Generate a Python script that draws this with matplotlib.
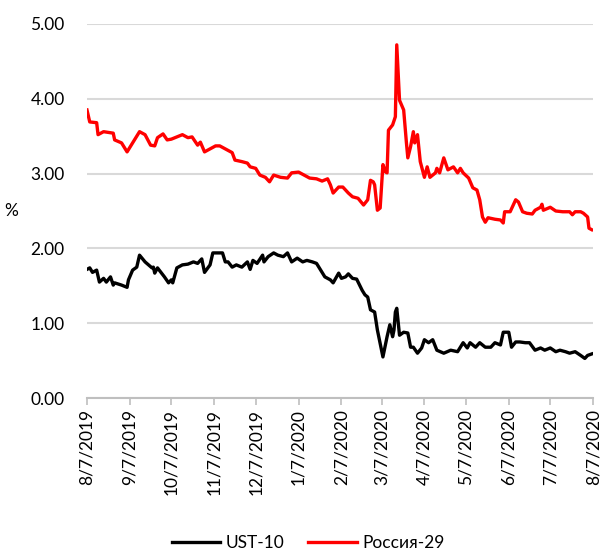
import pandas as pd
import matplotlib.pyplot as plt

plt.rcParams['font.family'] = ['Lato', 'DejaVu Sans']

start = pd.Timestamp('2019-08-07')
tick_dates = [start + pd.DateOffset(months=i) for i in range(13)]
tick_labels = [f'{d.month}/{d.day}/{d.year}' for d in tick_dates]

# days since 8/7/2019 and yields
ust_days = [0, 2, 4, 7, 9, 12, 14, 17, 19, 20, 25, 29, 30, 33, 36, 38, 42, 47, 48, 49,
            51, 56, 59, 61, 62, 65, 69, 73, 77, 80, 83, 85, 89, 91, 94, 98, 100, 102, 105, 108,
            112, 116, 118, 120, 123, 127, 128, 131, 135, 138, 142, 145, 148, 152, 156, 159, 163, 166, 170, 172,
            176, 178, 182, 184, 187, 189, 192, 195, 199, 201, 203, 205, 208, 210, 214, 217, 219, 221, 222, 223,
            224, 226, 229, 232, 234, 236, 239, 242, 244, 247, 250, 253, 258, 263, 268, 270, 272, 275, 277, 281,
            284, 288, 292, 295, 299, 301, 305, 307, 310, 313, 317, 320, 324, 328, 331, 335, 339, 342, 346, 349,
            353, 357, 360, 362, 365]
ust_vals = [1.72, 1.74, 1.68, 1.71, 1.55, 1.60, 1.55, 1.62, 1.51, 1.54, 1.51, 1.48, 1.58, 1.71, 1.75, 1.91, 1.82, 1.74, 1.75, 1.67,
            1.74, 1.62, 1.54, 1.58, 1.54, 1.74, 1.78, 1.79, 1.82, 1.80, 1.86, 1.68, 1.78, 1.94, 1.94, 1.94, 1.82, 1.82, 1.75, 1.78,
            1.75, 1.82, 1.72, 1.84, 1.80, 1.91, 1.82, 1.89, 1.94, 1.91, 1.89, 1.94, 1.82, 1.87, 1.82, 1.84, 1.82, 1.80, 1.68, 1.62,
            1.58, 1.54, 1.67, 1.60, 1.62, 1.66, 1.60, 1.59, 1.44, 1.38, 1.35, 1.18, 1.15, 0.91, 0.55, 0.82, 0.98, 0.82, 0.91, 1.15,
            1.20, 0.84, 0.88, 0.87, 0.68, 0.68, 0.60, 0.67, 0.78, 0.74, 0.78, 0.64, 0.60, 0.64, 0.62, 0.68, 0.74, 0.67, 0.74, 0.68,
            0.74, 0.68, 0.68, 0.74, 0.71, 0.88, 0.88, 0.68, 0.75, 0.75, 0.74, 0.74, 0.64, 0.67, 0.64, 0.67, 0.62, 0.64, 0.62, 0.60,
            0.62, 0.57, 0.53, 0.57, 0.59]

rus_days = [0, 2, 7, 8, 12, 19, 20, 25, 29, 33, 38, 42, 46, 49, 51, 55, 58, 61, 69, 73,
            76, 80, 82, 85, 90, 93, 96, 100, 105, 107, 112, 116, 118, 122, 125, 129, 132, 135, 140, 145,
            148, 153, 156, 161, 166, 170, 174, 176, 178, 182, 185, 189, 192, 196, 200, 203, 205, 207, 208, 210,
            212, 214, 216, 217, 218, 221, 223, 224, 226, 229, 231, 232, 234, 236, 237, 239, 241, 244, 246, 248,
            252, 253, 255, 258, 261, 265, 268, 270, 272, 276, 279, 282, 284, 286, 288, 290, 295, 299, 301, 302,
            306, 310, 312, 315, 318, 322, 324, 328, 329, 330, 335, 339, 344, 349, 351, 353, 357, 359, 362, 363,
            365]
rus_vals = [3.85, 3.69, 3.68, 3.52, 3.56, 3.54, 3.45, 3.41, 3.29, 3.41, 3.56, 3.52, 3.38, 3.37, 3.48, 3.53, 3.45, 3.46, 3.52, 3.48,
            3.49, 3.38, 3.42, 3.29, 3.34, 3.37, 3.37, 3.33, 3.28, 3.18, 3.16, 3.14, 3.09, 3.07, 2.98, 2.95, 2.89, 2.98, 2.95, 2.94,
            3.01, 3.02, 2.99, 2.94, 2.93, 2.90, 2.93, 2.85, 2.74, 2.82, 2.82, 2.74, 2.69, 2.67, 2.58, 2.65, 2.91, 2.89, 2.85, 2.51,
            2.54, 3.12, 3.02, 3.01, 3.58, 3.65, 3.76, 4.72, 3.98, 3.85, 3.41, 3.21, 3.36, 3.56, 3.41, 3.52, 3.16, 2.95, 3.09, 2.95,
            3.01, 3.07, 3.01, 3.21, 3.05, 3.09, 3.01, 3.07, 3.01, 2.94, 2.81, 2.78, 2.65, 2.42, 2.35, 2.41, 2.39, 2.38, 2.34, 2.49,
            2.49, 2.65, 2.62, 2.49, 2.47, 2.46, 2.51, 2.55, 2.59, 2.51, 2.55, 2.50, 2.49, 2.49, 2.45, 2.49, 2.49, 2.47, 2.42, 2.27,
            2.25]

ust_dates = start + pd.to_timedelta(ust_days, unit='D')
rus_dates = start + pd.to_timedelta(rus_days, unit='D')

fig = plt.figure(figsize=(6.04, 5.56), dpi=100)
ax = fig.add_axes([0.144, 0.284, 0.838, 0.673])

ax.plot(ust_dates, ust_vals, color='black', lw=2.4, label='UST-10')
ax.plot(rus_dates, rus_vals, color='#ff0000', lw=2.4, label='Россия-29')

ax.set_xlim(tick_dates[0], tick_dates[-1])
ax.set_ylim(0, 5)
ax.set_yticks([0, 1, 2, 3, 4, 5])
ax.set_yticklabels([f'{v:.2f}' for v in range(6)])
ax.set_xticks(tick_dates)
ax.set_xticklabels(tick_labels, rotation=90)
ax.tick_params(axis='y', length=0, pad=16, labelsize=12.5)
ax.tick_params(axis='x', length=5, color='#bfbfbf', width=1.2, pad=3, labelsize=12.5)

ax.grid(axis='y', color='#d9d9d9', lw=1.5)
ax.set_axisbelow(True)
for s in ['top', 'right', 'left']:
    ax.spines[s].set_visible(False)
ax.spines['bottom'].set_color('#bfbfbf')
ax.spines['bottom'].set_linewidth(1.5)

ax.set_ylabel('%', rotation=0, fontsize=12.5, labelpad=14, va='center')

fig.legend(loc='lower center', bbox_to_anchor=(0.51, -0.02), ncol=2, frameon=False,
           fontsize=12.5, handlelength=2.8, columnspacing=1.4, handletextpad=0.3)

fig.savefig('out.png', dpi=100)
